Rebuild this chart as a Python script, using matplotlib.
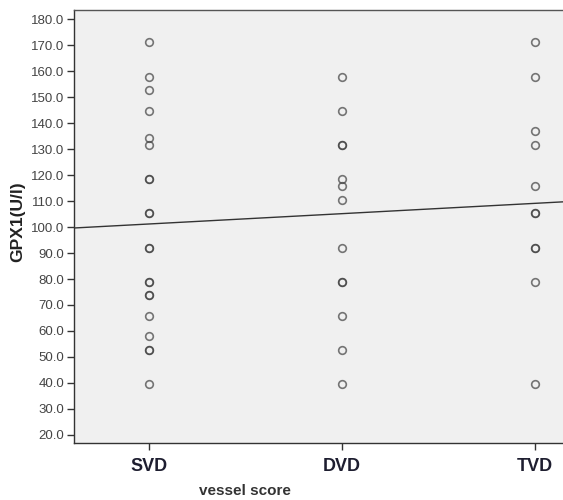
import matplotlib
matplotlib.use("Agg")
import matplotlib.pyplot as plt
import numpy as np

categories = ["SVD", "DVD", "TVD"]
svd_values = [171.1, 157.9, 152.6, 144.7, 134.2, 131.6, 118.4, 118.4, 105.3, 105.3,
              92.1, 92.1, 78.9, 78.9, 73.7, 73.7, 65.8, 57.9, 52.6, 52.6, 39.5]
dvd_values = [157.9, 144.7, 131.6, 131.6, 118.4, 115.8, 110.5, 92.1, 78.9, 78.9,
              65.8, 52.6, 39.5]
tvd_values = [171.1, 157.9, 136.8, 131.6, 115.8, 105.3, 105.3, 92.1, 92.1, 78.9, 39.5]
fit_intercept = 97.2
fit_slope = 3.97
y_ticks = [20, 30, 40, 50, 60, 70, 80, 90, 100, 110, 120, 130, 140, 150, 160, 170, 180]

plt.rcParams['font.family'] = ['Liberation Sans', 'DejaVu Sans']

fig = plt.figure(figsize=(5.63, 5.0), dpi=100)
ax = fig.add_axes([74/563, 57/500, 1 - 74/563, 433/500])
ax.set_facecolor('#f0f0f0')

groups = [svd_values, dvd_values, tvd_values]
for i, vals in enumerate(groups):
    xs = np.full(len(vals), i + 1.0)
    ax.plot(xs, vals, linestyle='none', marker='o', markersize=5.5,
            markerfacecolor='none', markeredgecolor=(0.25, 0.25, 0.25, 0.7),
            markeredgewidth=1.2)

xlim = (0.611, 3.145)
xx = np.array(xlim)
ax.plot(xx, fit_intercept + fit_slope * xx, color='#333333', linewidth=1.0)

ax.set_xlim(*xlim)
ax.set_ylim(16.9, 183.5)
ax.set_xticks([1, 2, 3])
ax.set_xticklabels(categories, fontsize=13, fontweight='bold', color='#1e1e30')
ax.set_yticks(y_ticks)
ax.set_yticklabels([f"{v:.1f}" for v in y_ticks], fontsize=9.5, color='#444444')

ax.tick_params(axis='y', direction='out', length=5, width=1, color='#333333', pad=2)
ax.tick_params(axis='x', direction='out', length=5, width=1, color='#333333', pad=6)

ax.spines['right'].set_visible(False)
ax.spines['top'].set_color('#555555')
ax.spines['left'].set_color('#333333')
ax.spines['bottom'].set_color('#333333')
for s in ['top', 'left', 'bottom']:
    ax.spines[s].set_linewidth(1.0)

ax.set_ylabel("GPX1(U/l)", fontsize=12.5, fontweight='bold', color='#222222')
ax.yaxis.set_label_coords(-(49 / (563 - 74)), (443 - 222) / 433)
ax.set_xlabel("vessel score", fontsize=11, fontweight='bold', color='#333333')
ax.xaxis.set_label_coords((245 - 74) / (563 - 74), -0.095)

fig.savefig("out.png", dpi=100, facecolor='white')
